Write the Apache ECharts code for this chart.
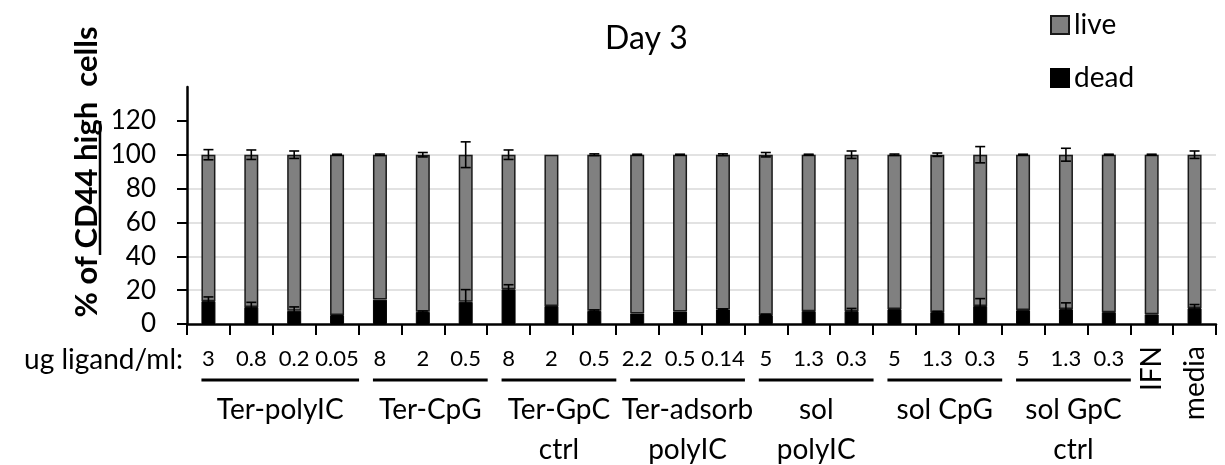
<!DOCTYPE html>
<html><head><meta charset="utf-8">
<script src="https://cdn.jsdelivr.net/npm/echarts@6/dist/echarts.min.js"></script>
<style>html,body{margin:0;padding:0;background:#fff}#c{width:1225px;height:465px}</style>
</head><body><div id="c"></div>
<script>
// ---- data ----
const doseLabels = ['3','0.8','0.2','0.05','8','2','0.5','8','2','0.5','2.2','0.5','0.14','5','1.3','0.3','5','1.3','0.3','5','1.3','0.3','',''];
const soloLabels = ['','','','','','','','','','','','','','','','','','','','','','','IFN','media'];
const dead    = [13.5,10.1,7.8,5.3,14.4,7.2,13.1,20.5,10.7,7.8,6.2,7.4,8.6,5.3,7.6,7.6,8.8,7.0,10.7,8.2,8.8,7.0,5.7,9.4];
const live    = [86.5,89.9,92.2,94.7,85.6,92.8,86.9,79.5,89.3,92.2,93.8,92.6,91.4,94.7,92.4,92.4,91.2,93.0,89.3,91.8,91.2,93.0,94.3,90.6];
const deadErr = [2.5,2.7,2.3,0,0,0.5,7.2,2.7,0,0.5,0,0,0.3,0.5,0,1.6,0,0.5,4.3,0,3.7,0,0,2.1];
const liveErr = [3.0,2.8,2.2,0.3,0.4,1.3,7.6,2.8,0,0.5,0.3,0.3,0.5,1.3,0.3,2.2,0.4,1.0,4.8,0.3,3.8,0.3,0.3,2.2];
const groupNames = ['Ter-polyIC','Ter-CpG','Ter-GpC\nctrl','Ter-adsorb\npolyIC','sol\npolyIC','sol CpG','sol GpC\nctrl'];
const groupFirst = [0,4,7,10,13,16,19];
const groupLast  = [3,6,9,12,15,18,21];
const yTicks = [0,20,40,60,80,100,120];

const FONT = 'Lato';
const chart = echarts.init(document.getElementById('c'), null, {renderer:'canvas'});

function errItem(params, api){
  const x = api.value(0), y = api.value(1), e = api.value(2);
  if (!(e > 0)) return null;
  const hi = api.coord([x, y + e]), lo = api.coord([x, y - e]);
  const cw = 5;
  const st = {stroke:'#000', lineWidth:1.6};
  return {type:'group', children:[
    {type:'line', shape:{x1:hi[0], y1:hi[1], x2:lo[0], y2:lo[1]}, style:st},
    {type:'line', shape:{x1:hi[0]-cw, y1:hi[1], x2:hi[0]+cw, y2:hi[1]}, style:st},
    {type:'line', shape:{x1:lo[0]-cw, y1:lo[1], x2:lo[0]+cw, y2:lo[1]}, style:st}
  ]};
}

const deadErrData = dead.map((v,i)=>[i, v, deadErr[i]]);
const liveErrData = dead.map((v,i)=>[i, v + live[i], liveErr[i]]);

const option = {
  animation:false,
  textStyle:{fontFamily:FONT, color:'#000'},
  title:{text:'Day 3', left:600, top:18, textStyle:{fontFamily:FONT, fontSize:32, fontWeight:'normal', color:'#000'}},
  legend:{
    orient:'vertical', left:1045, top:5, itemWidth:18, itemHeight:18, itemGap:23, itemTextGap:9,
    icon:'rect',
    data:['live','dead'],
    textStyle:{fontFamily:FONT, fontSize:28, color:'#000', lineHeight:30}
  },
  grid:{left:187, right:9, top:87, bottom:141, containLabel:false, outerBoundsMode:'none'},
  xAxis:[{
    type:'category', data:doseLabels, position:'bottom',
    axisLine:{show:true, lineStyle:{color:'#000', width:2.5}},
    axisTick:{show:true, length:11, interval:0, lineStyle:{color:'#000', width:2}},
    axisLabel:{interval:0, fontSize:22, fontFamily:FONT, color:'#000', margin:24},
    splitLine:{show:false}
  },{
    type:'category', data:soloLabels, position:'bottom',
    axisLine:{show:false}, axisTick:{show:false},
    axisLabel:{interval:0, rotate:90, fontSize:28, fontFamily:FONT, color:'#000', margin:22},
    splitLine:{show:false}
  }],
  yAxis:{
    type:'value', min:0, max:140, interval:20,
    axisLine:{show:true, lineStyle:{color:'#000', width:2.5}},
    axisTick:{show:true, length:10, customValues:yTicks, lineStyle:{color:'#000', width:2}},
    axisLabel:{fontSize:26, fontFamily:FONT, color:'#000', margin:31, customValues:yTicks},
    splitLine:{show:true, showMaxLine:false, showMinLine:false, lineStyle:{color:'#d9d9d9', width:1.5}}
  },
  series:[
    {name:'dead', type:'bar', stack:'a', barWidth:14, data:dead,
     itemStyle:{color:'#000', borderColor:'#000', borderWidth:1}},
    {name:'live', type:'bar', stack:'a', barWidth:14, data:live,
     itemStyle:{color:'#808080', borderColor:'#1a1a1a', borderWidth:1.5}},
    {name:'errDead', type:'custom', renderItem:errItem, data:deadErrData, z:5, encode:{x:0,y:1}},
    {name:'errLive', type:'custom', renderItem:errItem, data:liveErrData, z:5, encode:{x:0,y:1}}
  ]
};
chart.setOption(option);

// ---- annotations placed through the axis scale ----
const g = [];
for (let k = 0; k < groupNames.length; k++){
  const x0 = chart.convertToPixel({xAxisIndex:0}, groupFirst[k]) - 7;
  const x1 = chart.convertToPixel({xAxisIndex:0}, groupLast[k]) + 22;
  g.push({type:'line', shape:{x1:x0, y1:380, x2:x1, y2:380}, style:{stroke:'#000', lineWidth:3}});
  g.push({type:'text', x:(x0+x1)/2, y:390, style:{text:groupNames[k], fontFamily:FONT, fontSize:28, lineHeight:40, fill:'#000', align:'center', verticalAlign:'top'}});
}
g.push({type:'text', x:183, y:360, style:{text:'ug ligand/ml:', fontFamily:FONT, fontSize:28, fill:'#000', align:'right', verticalAlign:'middle'}});
g.push({type:'text', x:87, y:172, rotation:Math.PI/2, style:{text:'% of CD44 high  cells', fontFamily:FONT, fontSize:31, fontWeight:'bold', fill:'#000', align:'center', verticalAlign:'middle'}});
g.push({type:'line', shape:{x1:100, y1:255, x2:100, y2:121}, style:{stroke:'#000', lineWidth:2.5}});
chart.setOption({graphic:g});
</script>
</body></html>
